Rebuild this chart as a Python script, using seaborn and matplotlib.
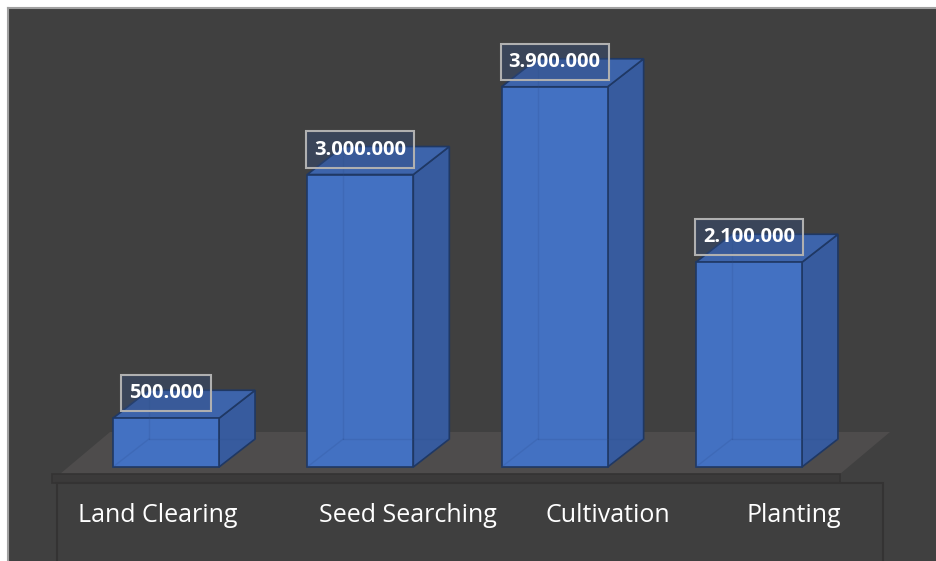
import matplotlib
matplotlib.use("Agg")
import matplotlib.pyplot as plt
import seaborn as sns
import pandas as pd
from matplotlib.patches import Polygon, Rectangle
from matplotlib.lines import Line2D

categories = ["Land Clearing", "Seed Searching", "Cultivation", "Planting"]
values = [500000, 3000000, 3900000, 2100000]
value_labels = ["500.000", "3.000.000", "3.900.000", "2.100.000"]

df = pd.DataFrame({"category": categories, "value": values})

sns.set_theme(style="white")
plt.rcParams["font.family"] = ["Open Sans", "DejaVu Sans"]

W, H, DPI = 936, 561, 100
fig = plt.figure(figsize=(W / DPI, H / DPI), dpi=DPI, facecolor="white")
L, T = 8, 8
ax = fig.add_axes([L / W, 0, (W - L) / W, (H - T) / H])
ax.set_facecolor("#404040")
for s in ax.spines.values():
    s.set_visible(False)
for side_name in ["top", "left"]:
    ax.spines[side_name].set_visible(True)
    ax.spines[side_name].set_color("#a0a0a0")
    ax.spines[side_name].set_linewidth(1.5)

XMIN, XMAX = -0.813, 3.963
YMIN, YMAX = -964000, 4708000

# pixel <-> data helpers (pixel coordinates measured from image top-left)
xpp = (W - L) / (XMAX - XMIN)          # px per x unit
ypp = (H - T) / (YMAX - YMIN)          # px per y unit
def px(xp, yp):
    return (XMIN + (xp - L) / xpp, YMAX - (yp - T) / ypp)

sns.barplot(data=df, x="category", y="value", color="#4371C2", width=0.546,
            saturation=1, edgecolor="#1F3864", linewidth=1.2, ax=ax, zorder=4)
ax.set_xlim(XMIN, XMAX)
ax.set_ylim(YMIN, YMAX)
ax.set_xlabel("")
ax.set_ylabel("")
ax.set_xticks([])
ax.set_yticks([])

# floor
fl = [px(60, 474), px(840, 474), px(890, 432), px(110, 432)]
ax.add_patch(Polygon(fl, closed=True, facecolor="#4e4c4c", edgecolor="none", zorder=1))
# floor thickness strip and category box
x0, y0 = px(52, 474)
x1, y1 = px(840, 483)
ax.add_patch(Rectangle((x0, y1), x1 - x0, y0 - y1, facecolor="#3b3a3a",
                       edgecolor="#343333", lw=1.2, zorder=1))
x0, y0 = px(57, 483)
x1, y1 = px(883, 570)
ax.add_patch(Rectangle((x0, y1), x1 - x0, y0 - y1, facecolor="#3f3f3f",
                       edgecolor="#343333", lw=1.5, zorder=1))

# 3D depth
dxd = 36 / xpp
dyd = 28 / ypp
for p in ax.containers[0].patches:
    bx, bw, bh = p.get_x(), p.get_width(), p.get_height()
    side = [(bx + bw, 0), (bx + bw, bh), (bx + bw + dxd, bh + dyd), (bx + bw + dxd, dyd)]
    top = [(bx, bh), (bx + bw, bh), (bx + bw + dxd, bh + dyd), (bx + dxd, bh + dyd)]
    ax.add_patch(Polygon(side, closed=True, facecolor="#375B9E", edgecolor="#1F3864",
                         lw=1.2, zorder=3))
    ax.add_patch(Polygon(top, closed=True, facecolor="#3D64AB", edgecolor="#1F3864",
                         lw=1.2, zorder=3))
    # faint hidden edges
    for xs, ys in [([bx + dxd, bx + dxd], [dyd, bh + dyd]),
                   ([bx + dxd, bx + bw + dxd], [dyd, dyd]),
                   ([bx, bx + dxd], [0, dyd])]:
        ax.add_line(Line2D(xs, ys, color="#2B4C8C", lw=1.0, alpha=0.2, zorder=5))

# value labels
for p, lab in zip(ax.containers[0].patches, value_labels):
    cx = p.get_x() + p.get_width() / 2
    ax.annotate(lab, (cx, p.get_height()), xytext=(0, 25), textcoords="offset pixels",
                ha="center", va="center", color="white", fontsize=14.5, fontweight="bold",
                bbox=dict(boxstyle="square,pad=0.4", facecolor=(0.2, 0.3, 0.5, 0.4),
                          edgecolor="#b0b0b0", lw=1.5), zorder=6)

# category labels
label_px = [158, 408, 608, 794]
for lx, c in zip(label_px, categories):
    xx, yy = px(lx, 515)
    ax.text(xx, yy, c, ha="center", va="center", color="white", fontsize=18, zorder=6)

fig.savefig("out.png", dpi=DPI, facecolor="white")
